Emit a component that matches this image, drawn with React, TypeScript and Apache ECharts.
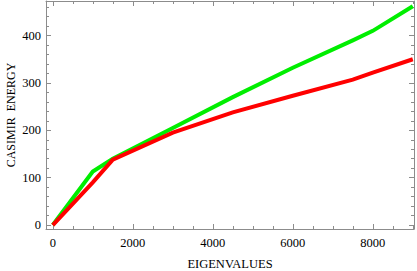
import React, { useEffect, useRef } from "react";
import * as echarts from "echarts";

const eigenvalues = [0, 1000, 1500, 3000, 4500, 6000, 7500, 8000, 9000];
const greenEnergy = [0, 113, 140, 205, 270, 332, 390, 410, 462];
const redEnergy = [0, 90, 138, 195, 238, 273, 307, 322, 350];
const xMajorTicks = [0, 2000, 4000, 6000, 8000];
const xMinorTicks = [500, 1000, 1500, 2500, 3000, 3500, 4500, 5000, 5500, 6500, 7000, 7500, 8500, 9000];
const yMajorTicks = [0, 100, 200, 300, 400];
const yMinorTicks = [20, 40, 60, 80, 120, 140, 160, 180, 220, 240, 260, 280, 320, 340, 360, 380, 420, 440, 460];

const X_MIN = -170;
const X_MAX = 9030;
const Y_MIN = -8.4;
const Y_MAX = 473;
const FRAME = "#8c8c8c";
const FONT = "'Liberation Serif', 'Times New Roman', serif";

export default function App() {
  const ref = useRef<HTMLDivElement>(null);
  useEffect(() => {
    if (!ref.current) return;
    const chart = echarts.init(ref.current, undefined, { renderer: "svg" });
    const xAx = (position: string, ticks: number[], len: number, main: boolean) => ({
      type: "value",
      position,
      min: X_MIN,
      max: X_MAX,
      splitLine: { show: false },
      axisLine: { show: main, onZero: false, lineStyle: { color: FRAME, width: 1 } },
      axisTick: { show: true, inside: true, length: len, customValues: ticks, lineStyle: { color: FRAME, width: 1 } },
      axisLabel: {
        show: main && position === "bottom" && len > 3,
        customValues: ticks,
        formatter: (v: number) => String(v),
        color: "#000",
        fontFamily: FONT,
        fontSize: 12.5,
        margin: 7,
      },
      ...(main && position === "bottom"
        ? {
            name: "EIGENVALUES",
            nameLocation: "middle",
            nameGap: 28,
            nameMoveOverlap: false,
            nameTextStyle: { color: "#000", fontFamily: FONT, fontSize: 12.5 },
          }
        : {}),
    });
    const yAx = (position: string, ticks: number[], len: number, main: boolean) => ({
      type: "value",
      position,
      min: Y_MIN,
      max: Y_MAX,
      splitLine: { show: false },
      axisLine: { show: main, onZero: false, lineStyle: { color: FRAME, width: 1 } },
      axisTick: { show: true, inside: true, length: len, customValues: ticks, lineStyle: { color: FRAME, width: 1 } },
      axisLabel: {
        show: main && position === "left" && len > 3,
        customValues: ticks,
        formatter: (v: number) => String(v),
        color: "#000",
        fontFamily: FONT,
        fontSize: 12.5,
        margin: 5,
      },
      ...(main && position === "left"
        ? {
            name: "CASIMIR  ENERGY",
            nameLocation: "middle",
            nameGap: 29,
            nameMoveOverlap: false,
            nameRotate: 90,
            nameTextStyle: { color: "#000", fontFamily: FONT, fontSize: 12 },
          }
        : {}),
    });
    chart.setOption({
      animation: false,
      backgroundColor: "#fff",
      grid: { left: 46, right: 3, top: 1, bottom: 42, containLabel: false, outerBoundsMode: "none" },
      xAxis: [
        xAx("bottom", xMajorTicks, 5, true),
        xAx("bottom", xMinorTicks, 3, false),
        xAx("top", xMajorTicks, 5, true),
        xAx("top", xMinorTicks, 3, false),
      ],
      yAxis: [
        yAx("left", yMajorTicks, 5, true),
        yAx("left", yMinorTicks, 3, false),
        yAx("right", yMajorTicks, 5, true),
        yAx("right", yMinorTicks, 3, false),
      ],
      series: [
        {
          type: "line",
          xAxisIndex: 0,
          yAxisIndex: 0,
          data: eigenvalues.map((x, i) => [x, greenEnergy[i]]),
          showSymbol: false,
          symbol: "none",
          lineStyle: { color: "#00ee00", width: 4, join: "miter" },
          z: 2,
        },
        {
          type: "line",
          xAxisIndex: 0,
          yAxisIndex: 0,
          data: eigenvalues.map((x, i) => [x, redEnergy[i]]),
          showSymbol: false,
          symbol: "none",
          lineStyle: { color: "#ff0000", width: 4, join: "miter" },
          z: 3,
        },
      ],
    });
    return () => chart.dispose();
  }, []);
  return <div ref={ref} style={{ width: 417, height: 271, position: "absolute", left: 0, top: 0 }} />;
}
